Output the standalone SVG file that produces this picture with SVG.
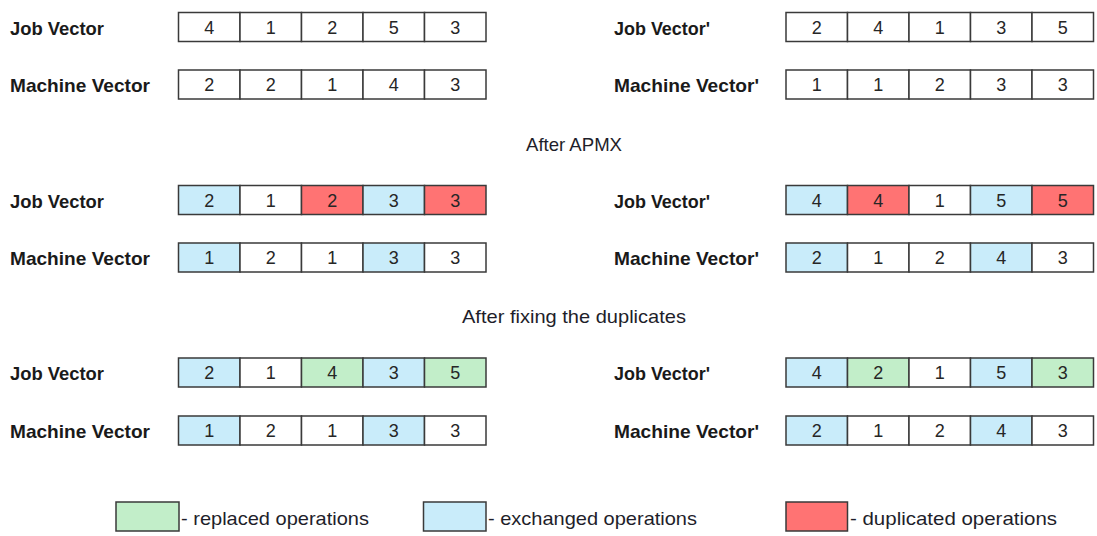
<svg xmlns="http://www.w3.org/2000/svg" width="1097" height="536" viewBox="0 0 1097 536">
<style>
.lbl{font-family:"Liberation Sans",Arial,sans-serif;font-weight:bold;font-size:18.5px;fill:#1a1a1a}
.num{font-family:"Liberation Sans",Arial,sans-serif;font-size:18px;fill:#262626;text-anchor:middle}
.hdr{font-family:"Liberation Sans",Arial,sans-serif;font-size:19px;fill:#1e1e2a}
.c{stroke:#3a3a3a;stroke-width:1.5;fill:#ffffff}
.b{fill:#c9ecfa}
.r{fill:#ff7373}
.g{fill:#c2eec9}
</style>
<rect width="1097" height="536" fill="#ffffff"/>

<!-- Section 1 -->
<g id="s1-left-job">
<text class="lbl" x="10" y="34.5" textLength="94" lengthAdjust="spacingAndGlyphs">Job Vector</text>
<rect class="c" x="178.5" y="12.5" width="61.5" height="29"/><rect class="c" x="240" y="12.5" width="61.5" height="29"/><rect class="c" x="301.5" y="12.5" width="61.5" height="29"/><rect class="c" x="363" y="12.5" width="61.5" height="29"/><rect class="c" x="424.5" y="12.5" width="61.5" height="29"/>
<text class="num" x="209.25" y="33.5">4</text><text class="num" x="270.75" y="33.5">1</text><text class="num" x="332.25" y="33.5">2</text><text class="num" x="393.75" y="33.5">5</text><text class="num" x="455.25" y="33.5">3</text>
</g>
<g id="s1-left-machine">
<text class="lbl" x="10" y="92" textLength="140" lengthAdjust="spacingAndGlyphs">Machine Vector</text>
<rect class="c" x="178.5" y="70" width="61.5" height="29"/><rect class="c" x="240" y="70" width="61.5" height="29"/><rect class="c" x="301.5" y="70" width="61.5" height="29"/><rect class="c" x="363" y="70" width="61.5" height="29"/><rect class="c" x="424.5" y="70" width="61.5" height="29"/>
<text class="num" x="209.25" y="91">2</text><text class="num" x="270.75" y="91">2</text><text class="num" x="332.25" y="91">1</text><text class="num" x="393.75" y="91">4</text><text class="num" x="455.25" y="91">3</text>
</g>
<g id="s1-right-job">
<text class="lbl" x="614" y="34.5" textLength="96" lengthAdjust="spacingAndGlyphs">Job Vector'</text>
<rect class="c" x="786" y="12.5" width="61.5" height="29"/><rect class="c" x="847.5" y="12.5" width="61.5" height="29"/><rect class="c" x="909" y="12.5" width="61.5" height="29"/><rect class="c" x="970.5" y="12.5" width="61.5" height="29"/><rect class="c" x="1032" y="12.5" width="61.5" height="29"/>
<text class="num" x="816.75" y="33.5">2</text><text class="num" x="878.25" y="33.5">4</text><text class="num" x="939.75" y="33.5">1</text><text class="num" x="1001.25" y="33.5">3</text><text class="num" x="1062.75" y="33.5">5</text>
</g>
<g id="s1-right-machine">
<text class="lbl" x="614" y="92" textLength="145" lengthAdjust="spacingAndGlyphs">Machine Vector'</text>
<rect class="c" x="786" y="70" width="61.5" height="29"/><rect class="c" x="847.5" y="70" width="61.5" height="29"/><rect class="c" x="909" y="70" width="61.5" height="29"/><rect class="c" x="970.5" y="70" width="61.5" height="29"/><rect class="c" x="1032" y="70" width="61.5" height="29"/>
<text class="num" x="816.75" y="91">1</text><text class="num" x="878.25" y="91">1</text><text class="num" x="939.75" y="91">2</text><text class="num" x="1001.25" y="91">3</text><text class="num" x="1062.75" y="91">3</text>
</g>

<g id="hdr-apmx"><text class="hdr" x="526" y="150.5" textLength="96" lengthAdjust="spacingAndGlyphs">After APMX</text></g>

<!-- Section 2 -->
<g id="s2-left-job">
<text class="lbl" x="10" y="207.5" textLength="94" lengthAdjust="spacingAndGlyphs">Job Vector</text>
<rect class="c b" x="178.5" y="185.5" width="61.5" height="29"/><rect class="c" x="240" y="185.5" width="61.5" height="29"/><rect class="c r" x="301.5" y="185.5" width="61.5" height="29"/><rect class="c b" x="363" y="185.5" width="61.5" height="29"/><rect class="c r" x="424.5" y="185.5" width="61.5" height="29"/>
<text class="num" x="209.25" y="206.5">2</text><text class="num" x="270.75" y="206.5">1</text><text class="num" x="332.25" y="206.5">2</text><text class="num" x="393.75" y="206.5">3</text><text class="num" x="455.25" y="206.5">3</text>
</g>
<g id="s2-left-machine">
<text class="lbl" x="10" y="265" textLength="140" lengthAdjust="spacingAndGlyphs">Machine Vector</text>
<rect class="c b" x="178.5" y="243" width="61.5" height="29"/><rect class="c" x="240" y="243" width="61.5" height="29"/><rect class="c" x="301.5" y="243" width="61.5" height="29"/><rect class="c b" x="363" y="243" width="61.5" height="29"/><rect class="c" x="424.5" y="243" width="61.5" height="29"/>
<text class="num" x="209.25" y="264">1</text><text class="num" x="270.75" y="264">2</text><text class="num" x="332.25" y="264">1</text><text class="num" x="393.75" y="264">3</text><text class="num" x="455.25" y="264">3</text>
</g>
<g id="s2-right-job">
<text class="lbl" x="614" y="207.5" textLength="96" lengthAdjust="spacingAndGlyphs">Job Vector'</text>
<rect class="c b" x="786" y="185.5" width="61.5" height="29"/><rect class="c r" x="847.5" y="185.5" width="61.5" height="29"/><rect class="c" x="909" y="185.5" width="61.5" height="29"/><rect class="c b" x="970.5" y="185.5" width="61.5" height="29"/><rect class="c r" x="1032" y="185.5" width="61.5" height="29"/>
<text class="num" x="816.75" y="206.5">4</text><text class="num" x="878.25" y="206.5">4</text><text class="num" x="939.75" y="206.5">1</text><text class="num" x="1001.25" y="206.5">5</text><text class="num" x="1062.75" y="206.5">5</text>
</g>
<g id="s2-right-machine">
<text class="lbl" x="614" y="265" textLength="145" lengthAdjust="spacingAndGlyphs">Machine Vector'</text>
<rect class="c b" x="786" y="243" width="61.5" height="29"/><rect class="c" x="847.5" y="243" width="61.5" height="29"/><rect class="c" x="909" y="243" width="61.5" height="29"/><rect class="c b" x="970.5" y="243" width="61.5" height="29"/><rect class="c" x="1032" y="243" width="61.5" height="29"/>
<text class="num" x="816.75" y="264">2</text><text class="num" x="878.25" y="264">1</text><text class="num" x="939.75" y="264">2</text><text class="num" x="1001.25" y="264">4</text><text class="num" x="1062.75" y="264">3</text>
</g>

<g id="hdr-fix"><text class="hdr" x="462" y="322.5" textLength="224" lengthAdjust="spacingAndGlyphs">After fixing the duplicates</text></g>

<!-- Section 3 -->
<g id="s3-left-job">
<text class="lbl" x="10" y="380" textLength="94" lengthAdjust="spacingAndGlyphs">Job Vector</text>
<rect class="c b" x="178.5" y="358" width="61.5" height="29"/><rect class="c" x="240" y="358" width="61.5" height="29"/><rect class="c g" x="301.5" y="358" width="61.5" height="29"/><rect class="c b" x="363" y="358" width="61.5" height="29"/><rect class="c g" x="424.5" y="358" width="61.5" height="29"/>
<text class="num" x="209.25" y="379">2</text><text class="num" x="270.75" y="379">1</text><text class="num" x="332.25" y="379">4</text><text class="num" x="393.75" y="379">3</text><text class="num" x="455.25" y="379">5</text>
</g>
<g id="s3-left-machine">
<text class="lbl" x="10" y="438" textLength="140" lengthAdjust="spacingAndGlyphs">Machine Vector</text>
<rect class="c b" x="178.5" y="416" width="61.5" height="29"/><rect class="c" x="240" y="416" width="61.5" height="29"/><rect class="c" x="301.5" y="416" width="61.5" height="29"/><rect class="c b" x="363" y="416" width="61.5" height="29"/><rect class="c" x="424.5" y="416" width="61.5" height="29"/>
<text class="num" x="209.25" y="437">1</text><text class="num" x="270.75" y="437">2</text><text class="num" x="332.25" y="437">1</text><text class="num" x="393.75" y="437">3</text><text class="num" x="455.25" y="437">3</text>
</g>
<g id="s3-right-job">
<text class="lbl" x="614" y="380" textLength="96" lengthAdjust="spacingAndGlyphs">Job Vector'</text>
<rect class="c b" x="786" y="358" width="61.5" height="29"/><rect class="c g" x="847.5" y="358" width="61.5" height="29"/><rect class="c" x="909" y="358" width="61.5" height="29"/><rect class="c b" x="970.5" y="358" width="61.5" height="29"/><rect class="c g" x="1032" y="358" width="61.5" height="29"/>
<text class="num" x="816.75" y="379">4</text><text class="num" x="878.25" y="379">2</text><text class="num" x="939.75" y="379">1</text><text class="num" x="1001.25" y="379">5</text><text class="num" x="1062.75" y="379">3</text>
</g>
<g id="s3-right-machine">
<text class="lbl" x="614" y="438" textLength="145" lengthAdjust="spacingAndGlyphs">Machine Vector'</text>
<rect class="c b" x="786" y="416" width="61.5" height="29"/><rect class="c" x="847.5" y="416" width="61.5" height="29"/><rect class="c" x="909" y="416" width="61.5" height="29"/><rect class="c b" x="970.5" y="416" width="61.5" height="29"/><rect class="c" x="1032" y="416" width="61.5" height="29"/>
<text class="num" x="816.75" y="437">2</text><text class="num" x="878.25" y="437">1</text><text class="num" x="939.75" y="437">2</text><text class="num" x="1001.25" y="437">4</text><text class="num" x="1062.75" y="437">3</text>
</g>

<!-- Legend -->
<g id="legend-replaced">
<rect class="c g" x="116" y="502" width="63" height="29"/>
<text class="hdr" x="181" y="525" textLength="188" lengthAdjust="spacingAndGlyphs">- replaced operations</text>
</g>
<g id="legend-exchanged">
<rect class="c b" x="423.5" y="502" width="62.5" height="29"/>
<text class="hdr" x="488" y="525" textLength="209" lengthAdjust="spacingAndGlyphs">- exchanged operations</text>
</g>
<g id="legend-duplicated">
<rect class="c r" x="786" y="502" width="61.5" height="29"/>
<text class="hdr" x="850" y="525" textLength="207" lengthAdjust="spacingAndGlyphs">- duplicated operations</text>
</g>
<g id="connectors"/>
</svg>
